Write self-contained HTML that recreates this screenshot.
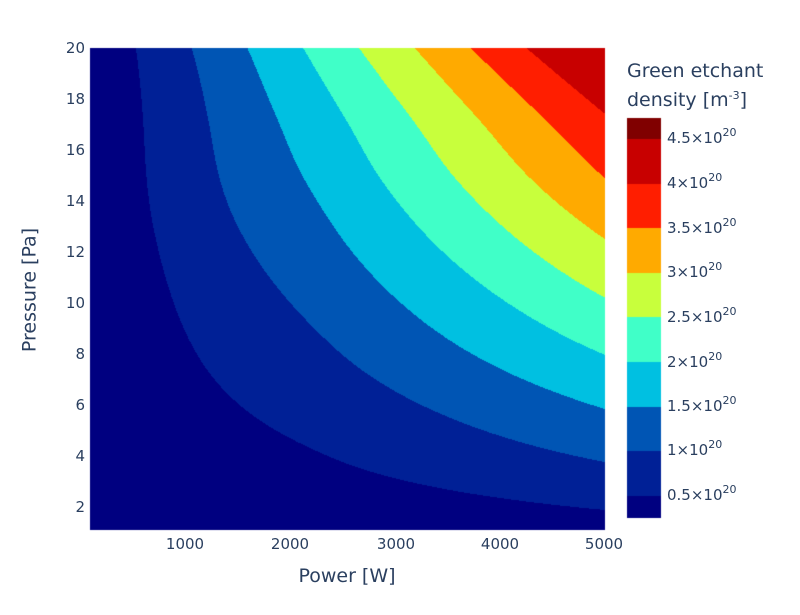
<!DOCTYPE html>
<html><head><meta charset="utf-8"><style>
body{margin:0;background:#fff;width:800px;height:615px;overflow:hidden;position:relative;font-family:"DejaVu Sans","Liberation Sans",sans-serif;color:#2a3f5f}
canvas{position:absolute;left:0;top:0}
.t{position:absolute;font-size:15px;white-space:nowrap;line-height:1}
.yt{text-align:right;width:40px;left:45px}
.xt{transform:translateX(-50%);top:537px}
.cb{left:667px;font-size:15px}
sup{font-size:11px;vertical-align:7px;line-height:0}
</style></head><body>
<canvas id="c" width="800" height="615"></canvas>
<div class="t yt" style="top:500px">2</div>
<div class="t yt" style="top:449px">4</div>
<div class="t yt" style="top:398px">6</div>
<div class="t yt" style="top:347px">8</div>
<div class="t yt" style="top:296px">10</div>
<div class="t yt" style="top:245px">12</div>
<div class="t yt" style="top:194px">14</div>
<div class="t yt" style="top:143px">16</div>
<div class="t yt" style="top:92px">18</div>
<div class="t yt" style="top:41px">20</div>
<div class="t xt" style="left:185px">1000</div>
<div class="t xt" style="left:290px">2000</div>
<div class="t xt" style="left:396px">3000</div>
<div class="t xt" style="left:500px">4000</div>
<div class="t xt" style="left:604px">5000</div>
<div class="t" style="font-size:19px;left:347px;top:567px;transform:translateX(-50%)">Power [W]</div>
<div class="t" style="font-size:19px;left:30px;top:290px;transform:translate(-50%,-50%) rotate(-90deg)">Pressure [Pa]</div>
<div class="t" style="font-size:19px;left:627px;top:62px">Green etchant</div>
<div class="t" style="font-size:19px;left:627px;top:91px">density [m<sup>-3</sup>]</div>
<div class="t cb" style="top:488px">0.5×10<sup>20</sup></div>
<div class="t cb" style="top:443px">1×10<sup>20</sup></div>
<div class="t cb" style="top:399px">1.5×10<sup>20</sup></div>
<div class="t cb" style="top:355px">2×10<sup>20</sup></div>
<div class="t cb" style="top:310px">2.5×10<sup>20</sup></div>
<div class="t cb" style="top:265px">3×10<sup>20</sup></div>
<div class="t cb" style="top:221px">3.5×10<sup>20</sup></div>
<div class="t cb" style="top:176px">4×10<sup>20</sup></div>
<div class="t cb" style="top:131px">4.5×10<sup>20</sup></div>
<script>
var c=document.getElementById('c').getContext('2d');
var cols=[[0,0,128],[0,32,150],[0,85,180],[0,192,225],[64,255,200],[200,255,60],[255,170,0],[255,30,0],[200,0,0],[128,0,0]];
var P=[[-20,1.2],[48,1.0],[114,0.850],[178,0.744],[239,0.638],[298,0.531],[355,0.425],[409,0.319],[462,0.2126],[510,0.1063],[560,0.0]];
function H(y){for(var i=1;i<P.length-2;i++){if(y<=P[i+1][0]){var p0=P[i-1],p1=P[i],p2=P[i+1],p3=P[i+2];var t=(y-p1[0])/(p2[0]-p1[0]);var h=p2[0]-p1[0];
var m1=(p2[1]-p0[1])/(p2[0]-p0[0])*h,m2=(p3[1]-p1[1])/(p3[0]-p1[0])*h;var t2=t*t,t3=t2*t;
return (2*t3-3*t2+1)*p1[1]+(t3-2*t2+t)*m1+(-2*t3+3*t2)*p2[1]+(t3-t2)*m2;}}return 0;}
function ss(t){t=Math.max(0,Math.min(1,t));return t*t*(3-2*t);}
var x0=90,x1=605,y0=48,y1=530;
var img=c.createImageData(x1-x0,y1-y0);
for(var y=y0;y<y1;y++){var h=H(y+0.5);var ty=ss((y-48)/180);for(var x=x0;x<x1;x++){
var sx=ss((330-x)/200);var C=1+0.16*ty*sx;
var n=(x+0.5-80)/55.8*0.5*h*C;var k=Math.floor(n/0.5);if(k<0)k=0;if(k>8)k=8;var col=cols[k];var i=((y-y0)*(x1-x0)+(x-x0))*4;img.data[i]=col[0];img.data[i+1]=col[1];img.data[i+2]=col[2];img.data[i+3]=255;}}
c.putImageData(img,x0,y0);
var cbTop=118,cbBot=518,vmin=0.253,vmax=4.735;
for(var yy=cbTop;yy<cbBot;yy++){var v=vmax-(yy+0.5-cbTop)/(cbBot-cbTop)*(vmax-vmin);var kk=Math.floor(v/0.5);if(kk<0)kk=0;if(kk>9)kk=9;var cc=cols[kk];c.fillStyle='rgb('+cc.join(',')+')';c.fillRect(627,yy,34,1);}
</script>
</body></html>
